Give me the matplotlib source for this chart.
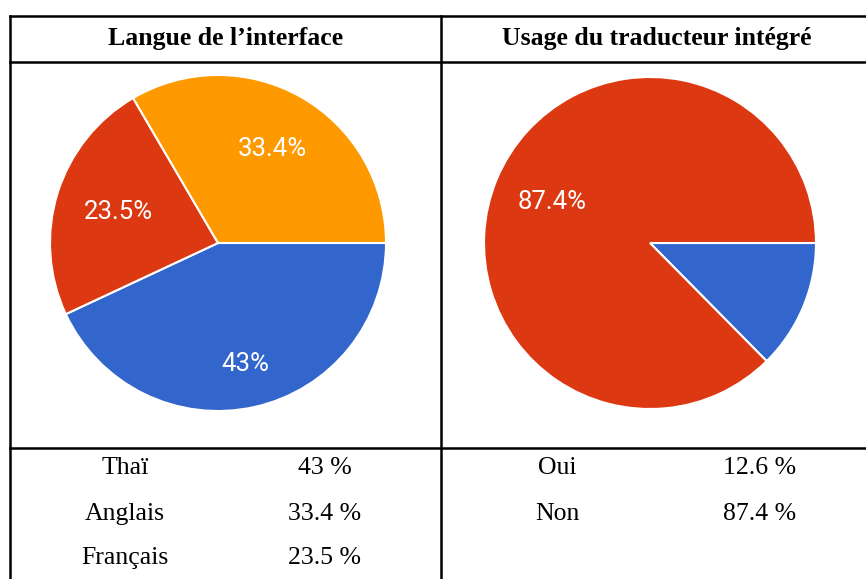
import matplotlib.pyplot as plt
import numpy as np

# données
langues = ['Thaï', 'Anglais', 'Français']
langues_pct = [43, 33.4, 23.5]
langues_txt = ['43 %', '33.4 %', '23.5 %']

usage = ['Oui', 'Non']
usage_pct = [12.6, 87.4]
usage_txt = ['12.6 %', '87.4 %']

bleu, rouge, orange = '#3366CC', '#DC3912', '#FF9900'

W, H = 866, 579
fig = plt.figure(figsize=(W / 100, H / 100), dpi=100)

# grille du tableau en pixels
tab = fig.add_axes([0, 0, 1, 1])
tab.set_xlim(0, W)
tab.set_ylim(H, 0)
tab.axis('off')

lw = 1.8
tab.plot([10, W], [16, 16], color='black', lw=lw)
tab.plot([10, W], [62, 62], color='black', lw=lw)
tab.plot([10, W], [448, 448], color='black', lw=lw)
tab.plot([10, 10], [16, H], color='black', lw=lw)
tab.plot([441, 441], [16, H], color='black', lw=lw)

serif = 'Liberation Serif'
tab.text(226, 39, 'Langue de l\u2019interface', ha='center', va='center',
         fontsize=18.5, fontweight='bold', family=serif)
tab.text(657, 39, 'Usage du traducteur intégré', ha='center', va='center',
         fontsize=18.5, fontweight='bold', family=serif)

rows_y = [468, 514, 558]
for i, (nom, val) in enumerate(zip(langues, langues_txt)):
    tab.text(125, rows_y[i], nom, ha='center', va='center', fontsize=18.5, family=serif)
    tab.text(325, rows_y[i], val, ha='center', va='center', fontsize=18.5, family=serif)
for i, (nom, val) in enumerate(zip(usage, usage_txt)):
    tab.text(557, rows_y[i], nom, ha='center', va='center', fontsize=18.5, family=serif)
    tab.text(760, rows_y[i], val, ha='center', va='center', fontsize=18.5, family=serif)


def camembert(cx, cy, r, valeurs, couleurs, dist, montrer):
    ax = fig.add_axes([(cx - r) / W, 1 - (cy + r) / H, 2 * r / W, 2 * r / H])
    wedges, _ = ax.pie(valeurs, colors=couleurs, startangle=0, counterclock=False,
                       radius=1, wedgeprops=dict(edgecolor='white', linewidth=1.5))
    ax.set_xlim(-1, 1)
    ax.set_ylim(-1, 1)
    ax.set_aspect('equal')
    ax.axis('off')
    for w, v, d, m in zip(wedges, valeurs, dist, montrer):
        if not m:
            continue
        a = np.deg2rad((w.theta1 + w.theta2) / 2)
        lab = ('%.1f%%' % v).replace('.0%', '%')
        ax.text(d * np.cos(a), d * np.sin(a), lab, ha='center', va='center',
                color='white', fontsize=18.5, family='Roboto')


# ordre des tranches : Thaï, Français, Anglais (sens horaire depuis 3 h)
ordre = [0, 2, 1]
couleurs_lang = [bleu, orange, rouge]
camembert(218, 243, 168, [langues_pct[i] for i in ordre],
          [couleurs_lang[i] for i in ordre], [0.74, 0.62, 0.645],
          [True, True, True])
camembert(650, 243, 166, usage_pct, [bleu, rouge], [0.64, 0.64], [False, True])

fig.savefig('out.png', dpi=100)
